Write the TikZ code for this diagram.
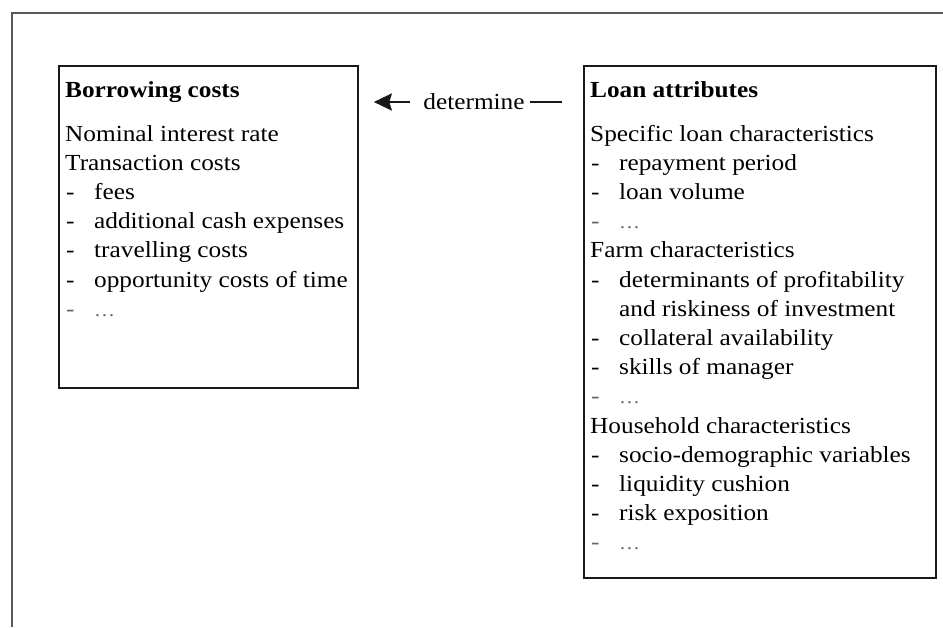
\documentclass[tikz,border=0pt]{standalone}
\usepackage{fontspec}
\setmainfont[FakeStretch=1.1]{Liberation Serif}
\usetikzlibrary{arrows.meta}
\newcommand\tline[1]{\hbox{#1}}
\newcommand\titm[1]{\hbox{\makebox[29pt][l]{\hspace{1pt}-}#1}}
\newcommand\tetc{\hbox{\color{black!60}\makebox[29pt][l]{\hspace{1pt}-}{\fontsize{19}{19}\selectfont\ldots}}}
\newcommand\tcont[1]{\hbox{\hspace{29pt}#1}}
\begin{document}
\begin{tikzpicture}[x=1pt,y=-1pt,
  frame/.style={draw=black!65, line width=1.6pt},
  boxed/.style={draw=black!90, line width=1.8pt, inner sep=0pt, anchor=north west},
  txt/.style={anchor=base west, inner sep=0pt, font=\fontsize{23}{29.2}\selectfont},
  conn/.style={line width=2.6pt, draw=black!90}]
\useasboundingbox (0,0) rectangle (943,627);
\draw[frame] (12,627) -- (12,13) -- (943,13);
\node[boxed, minimum width=299pt, minimum height=322pt] (bc) at (58,65) {};
\node[boxed, minimum width=352pt, minimum height=512pt] (la) at (583,65) {};
\node[txt] (bct) at (65,97) {\vtop{\baselineskip=29.2pt
  \tline{\bfseries Borrowing costs}
  \vskip14.8pt
  \tline{Nominal interest rate}
  \tline{Transaction costs}
  \titm{fees}
  \titm{additional cash expenses}
  \titm{travelling costs}
  \titm{opportunity costs of time}
  \tetc}};
\node[txt] (lat) at (590,97) {\vtop{\baselineskip=29.2pt
  \tline{\bfseries Loan attributes}
  \vskip14.8pt
  \tline{Specific loan characteristics}
  \titm{repayment period}
  \titm{loan volume}
  \tetc
  \tline{Farm characteristics}
  \titm{determinants of profitability}
  \tcont{and riskiness of investment}
  \titm{collateral availability}
  \titm{skills of manager}
  \tetc
  \tline{Household characteristics}
  \titm{socio-demographic variables}
  \titm{liquidity cushion}
  \titm{risk exposition}
  \tetc}};
\coordinate (from) at ([xshift=-21pt, yshift=-37pt]la.north west);
\coordinate (to) at ([xshift=15pt]bc.east |- from);
\node[inner sep=0pt, font=\fontsize{23}{29.2}\selectfont] (det) at (474,102) {determine};
\draw[conn] (from) -- ([xshift=5pt]det.east);
\draw[conn, -{Stealth[length=18pt, width=17pt, inset=2.5pt]}] ([xshift=-13pt]det.west) -- (to);
\end{tikzpicture}
\end{document}
